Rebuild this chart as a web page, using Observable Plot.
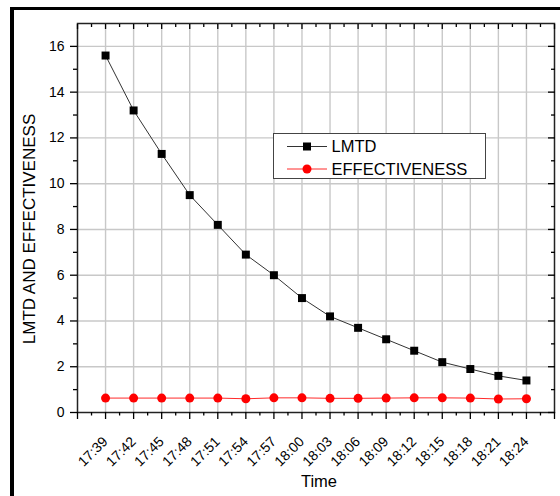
<!DOCTYPE html>
<html><head><meta charset="utf-8">
<script src="https://cdn.jsdelivr.net/npm/d3@7"></script>
<script src="https://cdn.jsdelivr.net/npm/@observablehq/plot@0.6"></script>
<style>
html,body{margin:0;padding:0;background:#fff;}
#wrap{position:relative;width:560px;height:496px;overflow:hidden;font-family:Arial,"Liberation Sans",sans-serif;}
#frame{position:absolute;left:10px;top:7px;width:600px;height:600px;border-left:4px solid #000;border-top:3.5px solid #000;box-sizing:border-box}
#chart{position:absolute;left:0;top:0}
#legend{position:absolute;left:273px;top:133px;width:213px;height:46px;box-sizing:border-box;border:1px solid #444;background:#fff}
</style></head><body>
<div id="wrap"><div id="frame"></div><div id="chart"></div><div id="legend"></div></div>
<script>
const times = ["17:39","17:42","17:45","17:48","17:51","17:54","17:57","18:00","18:03","18:06","18:09","18:12","18:15","18:18","18:21","18:24"];
const lmtd = [15.6,13.2,11.3,9.5,8.2,6.9,6.0,5.0,4.2,3.7,3.2,2.7,2.2,1.9,1.6,1.4];
const effectiveness = [0.63,0.63,0.63,0.63,0.63,0.60,0.64,0.64,0.62,0.62,0.63,0.64,0.64,0.63,0.59,0.60];
const yTicks = [0,2,4,6,8,10,12,14,16];
const yMinorTicks = [1,3,5,7,9,11,13,15];
const seriesNames = ["LMTD","EFFECTIVENESS"];
const seriesColors = ["#000000","#ff0000"];
const xLabel = "Time";
const yLabel = "LMTD AND EFFECTIVENESS";

const toMin = t => { const [h,m] = t.split(":").map(Number); return h*60+m; };
const mins = times.map(toMin);
const step = mins[1]-mins[0];
const xDomain = [mins[0]-step, mins[mins.length-1]+step];
const majorX = d3.range(xDomain[0], xDomain[1]+0.001, step);
const minorX = d3.range(xDomain[0]+step/2, xDomain[1], step);
const rows = times.map((t,i)=>({t, x: mins[i], lmtd: lmtd[i], eff: effectiveness[i]}));
const FONT = "Arial, 'Liberation Sans', sans-serif";

const chart = Plot.plot({
  width: 560, height: 496,
  marginLeft: 77, marginRight: 6, marginTop: 23, marginBottom: 84,
  x: {type: "linear", domain: xDomain},
  y: {domain: [0,17]},
  style: {fontFamily: FONT, fontSize: "14px", color: "#000", background: "transparent", overflow: "visible"},
  marks: [
    Plot.gridX(majorX.slice(1,-1), {stroke: "#c8c8c8", strokeOpacity: 1, strokeWidth: 1.4}),
    Plot.gridY(yTicks.slice(1), {stroke: "#c8c8c8", strokeOpacity: 1, strokeWidth: 1.4}),
    Plot.line(rows, {x: "x", y: "lmtd", stroke: "#333", strokeWidth: 1}),
    Plot.line(rows, {x: "x", y: "eff", stroke: "#ff2a2a", strokeWidth: 1}),
    Plot.dot(rows, {x: "x", y: "lmtd", symbol: "square", r: 4.5, fill: seriesColors[0], stroke: null}),
    Plot.dot(rows, {x: "x", y: "eff", symbol: "circle", r: 4.5, fill: seriesColors[1], stroke: null}),
    Plot.frame({stroke: "#222", strokeWidth: 1.5}),
    Plot.axisX(majorX, {anchor: "bottom", tickSize: 7, fill: "none", label: null, strokeWidth: 1.3}),
    Plot.axisX(minorX, {anchor: "bottom", tickSize: 3.5, fill: "none", label: null, strokeWidth: 1.3}),
    Plot.axisX(majorX, {anchor: "top", tickSize: -5, fill: "none", label: null, strokeWidth: 1.3}),
    Plot.axisX(minorX, {anchor: "top", tickSize: -3, fill: "none", label: null, strokeWidth: 1.3}),
    Plot.axisY(yTicks, {anchor: "left", tickSize: 7, tickPadding: 6, label: null, strokeWidth: 1.3}),
    Plot.axisY(yMinorTicks, {anchor: "left", tickSize: 4, fill: "none", label: null, strokeWidth: 1.3}),
    Plot.axisY(yTicks, {anchor: "right", tickSize: -7, fill: "none", label: null, strokeWidth: 1.3}),
    Plot.axisY(yMinorTicks, {anchor: "right", tickSize: -4, fill: "none", label: null, strokeWidth: 1.3}),
    Plot.text(rows, {x: "x", y: () => 0, text: "t", rotate: -45, textAnchor: "end", lineAnchor: "top", dx: -4, dy: 23, fontSize: 14}),
    Plot.text([xLabel], {frameAnchor: "bottom", textAnchor: "middle", lineAnchor: "middle", dx: 3, dy: 69, fontSize: 16.5}),
    Plot.text([yLabel], {frameAnchor: "left", textAnchor: "middle", lineAnchor: "middle", rotate: -90, dx: -47.5, dy: 11, fontSize: 17})
  ]
});
document.getElementById("chart").appendChild(chart);

// legend
const lg = d3.select("#legend").append("svg").attr("width", 211).attr("height", 44)
  .style("display","block").style("font-family", FONT);
const rowY = [12.5, 35];
seriesNames.forEach((name, i) => {
  const g = lg.append("g").attr("transform", `translate(0,${rowY[i]})`);
  g.append("line").attr("x1", 13).attr("x2", 53).attr("y1", 0).attr("y2", 0)
    .attr("stroke", i === 0 ? "#333" : "#ff2a2a").attr("stroke-width", 1);
  if (i === 0) g.append("rect").attr("x", 29).attr("y", -4).attr("width", 8).attr("height", 8).attr("fill", seriesColors[0]);
  else g.append("circle").attr("cx", 33).attr("cy", 0).attr("r", 4.5).attr("fill", seriesColors[1]);
  g.append("text").attr("x", 57.5).attr("y", 0).attr("dy", "0.36em").attr("font-size", 16.5).attr("fill", "#000").text(name);
});
</script>
</body></html>
